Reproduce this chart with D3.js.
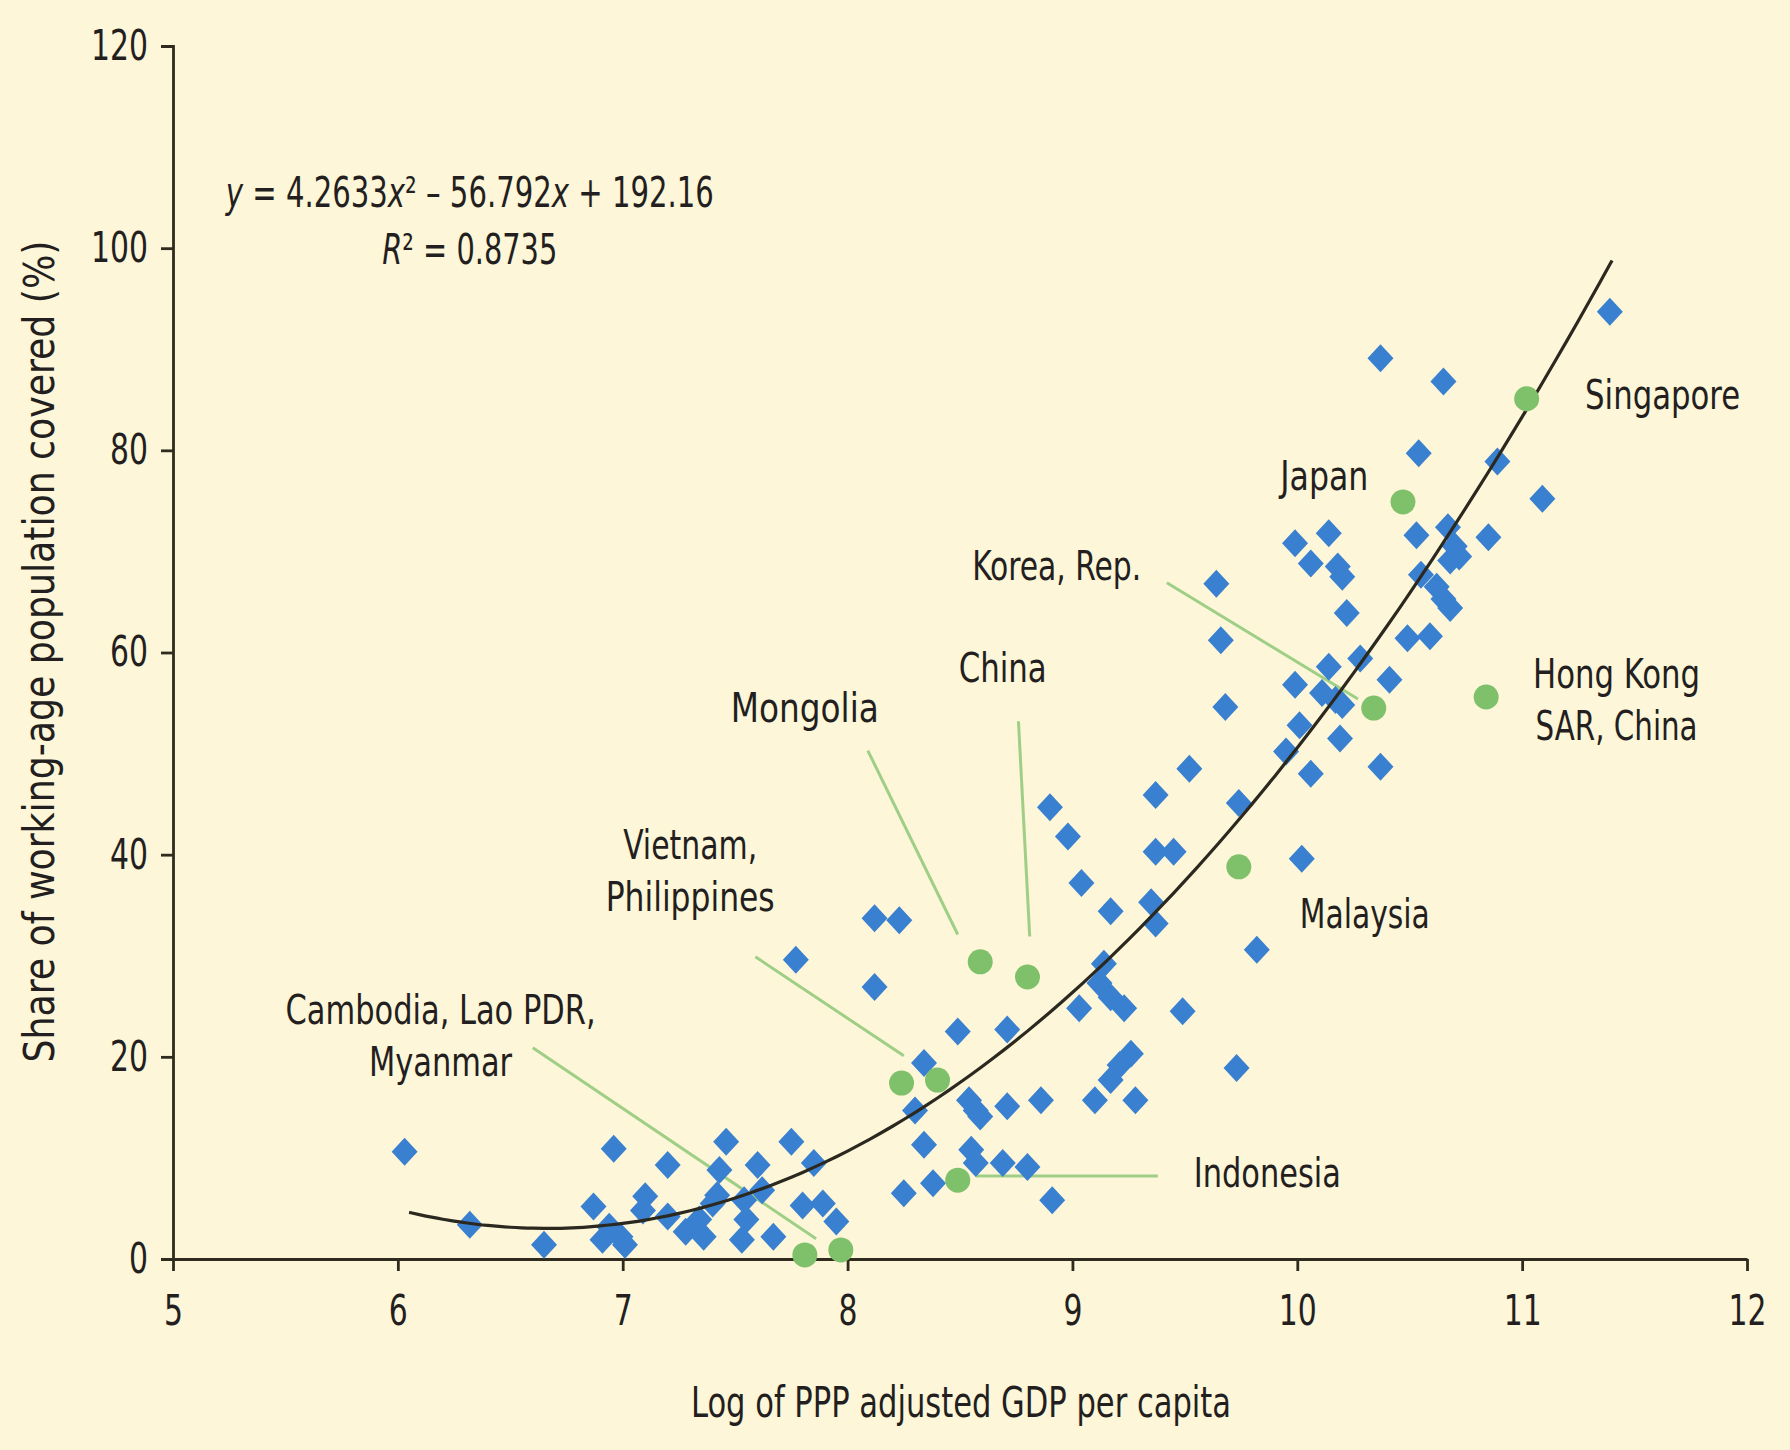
<!DOCTYPE html>
<html>
<head>
<meta charset="utf-8">
<script src="https://cdn.jsdelivr.net/npm/d3@7"></script>
<style>
  html, body { margin: 0; padding: 0; background: #fdf6d8; }
  svg { display: block; }
  svg text { font-family: "DejaVu Sans Condensed", "Liberation Sans Narrow", "Open Sans", sans-serif; fill: #231f20; }
</style>
</head>
<body>
<div id="chart"></div>
<script>
// --- data ---
// blue diamonds: log GDP per capita / share covered
const diamondX = [
  6.03, 6.32, 6.65, 6.87, 6.96, 6.94, 6.91, 6.99, 7.01, 7.10, 7.09, 7.20, 7.20, 7.28, 7.34, 7.36,
  7.40, 7.42, 7.43, 7.46, 7.54, 7.55, 7.53, 7.60, 7.62, 7.67, 7.75, 7.77, 7.80, 7.85, 7.89, 7.95,
  8.12, 8.23, 8.12, 8.49, 8.71, 8.34, 8.30, 8.54, 8.57, 8.59, 8.71, 8.34, 8.55, 8.57, 8.69, 8.80,
  8.38, 8.25, 8.86, 8.91,
  9.52, 9.95, 10.06, 10.37, 8.90, 9.37, 9.74, 8.98, 9.37, 9.45, 10.02, 9.04, 9.17, 9.35, 9.37, 9.82,
  9.14, 9.12, 9.17, 9.23, 9.03, 9.49, 9.26, 9.21, 9.17, 9.73, 9.10, 9.28,
  11.39, 10.37, 10.65, 10.54, 10.89, 11.09, 9.99, 10.14, 10.53, 10.67, 10.70, 10.68, 10.72, 10.85,
  10.06, 10.18, 10.20, 10.55, 10.62, 10.65, 10.68, 10.22, 10.49, 10.59, 10.28, 10.14, 9.99, 10.41,
  10.11, 10.17, 10.20, 10.01, 10.19, 9.64, 9.66, 9.68
];
const diamondY = [
  10.6, 3.4, 1.4, 5.2, 10.9, 3.2, 1.9, 2.2, 1.4, 6.2, 4.8, 9.3, 4.2, 2.7, 3.9, 2.2,
  5.5, 6.3, 8.8, 11.6, 5.8, 3.9, 1.9, 9.3, 6.8, 2.2, 11.6, 29.6, 5.3, 9.5, 5.5, 3.7,
  33.7, 33.5, 26.9, 22.5, 22.7, 19.4, 14.7, 15.7, 14.7, 14.1, 15.1, 11.3, 10.8, 9.5, 9.5, 9.1,
  7.5, 6.5, 15.7, 5.8,
  48.5, 50.2, 48.0, 48.7, 44.7, 45.9, 45.1, 41.8, 40.3, 40.3, 39.6, 37.2, 34.4, 35.3, 33.2, 30.6,
  29.2, 27.3, 25.9, 24.8, 24.8, 24.5, 20.3, 19.2, 17.7, 18.9, 15.7, 15.7,
  93.7, 89.1, 86.8, 79.7, 78.9, 75.2, 70.8, 71.8, 71.6, 72.4, 70.5, 69.1, 69.5, 71.4,
  68.8, 68.5, 67.5, 67.7, 66.5, 65.3, 64.4, 63.9, 61.4, 61.6, 59.4, 58.6, 56.8, 57.3,
  56.0, 55.3, 54.8, 52.8, 51.5, 66.8, 61.2, 54.6
];

// green circles: highlighted East Asian economies
const hiNames = ["Singapore", "Japan", "Korea, Rep.", "Hong Kong SAR, China", "Malaysia", "China",
  "Mongolia", "Vietnam", "Philippines", "Indonesia", "Cambodia", "Lao PDR / Myanmar"];
const hiX = [11.02, 10.47, 10.34, 10.84, 9.74, 8.80, 8.59, 8.24, 8.40, 8.49, 7.81, 7.97];
const hiY = [85.1, 74.9, 54.5, 55.6, 38.8, 27.9, 29.4, 17.4, 17.7, 7.8, 0.4, 0.9];

// quadratic trend line from the chart: y = a x^2 + b x + c
const trendCoef = [4.2633, -56.792, 192.16];
const trendRange = [6.05, 11.4];

const xTicks = [5, 6, 7, 8, 9, 10, 11, 12];
const yTicks = [0, 20, 40, 60, 80, 100, 120];

// --- layout ---
const width = 1790, height = 1450;
const margin = { top: 46, right: 43, bottom: 191, left: 173 };
const digitW = 19; // condensed digit width in the original

const svg = d3.select('#chart').append('svg')
  .attr('width', width)
  .attr('height', height);

svg.append('rect').attr('width', width).attr('height', height).attr('fill', '#fdf6d8');

const x = d3.scaleLinear().domain([5, 12]).range([margin.left, width - margin.right]);
const y = d3.scaleLinear().domain([0, 120]).range([height - margin.bottom, margin.top]);

const axisColor = '#2f2b1e';

// y axis
const gy = svg.append('g')
  .attr('transform', `translate(${margin.left},0)`)
  .call(d3.axisLeft(y).tickValues(yTicks).tickFormat(d3.format('d'))
    .tickSize(12).tickSizeOuter(12).tickPadding(13));
// x axis
const gx = svg.append('g')
  .attr('transform', `translate(0,${height - margin.bottom})`)
  .call(d3.axisBottom(x).tickValues(xTicks).tickFormat(d3.format('d'))
    .tickSize(12).tickSizeOuter(0).tickPadding(24));

[gx, gy].forEach(g => {
  g.selectAll('path, line').attr('stroke', axisColor).attr('stroke-width', 2.8);
  g.selectAll('text')
    .attr('font-size', 42)
    .attr('fill', '#231f20')
    .attr('textLength', d => String(d).length * digitW)
    .attr('lengthAdjust', 'spacingAndGlyphs')
    .style('font-family', '"DejaVu Sans Condensed", "Liberation Sans Narrow", "Open Sans", sans-serif');
});

// axis titles
svg.append('text')
  .attr('x', 961).attr('y', 1417)
  .attr('text-anchor', 'middle')
  .attr('font-size', 42)
  .attr('textLength', 540).attr('lengthAdjust', 'spacingAndGlyphs')
  .text('Log of PPP adjusted GDP per capita');

svg.append('text')
  .attr('transform', `translate(54,${y(60.1)}) rotate(-90)`)
  .attr('text-anchor', 'middle')
  .attr('font-size', 42)
  .attr('textLength', 822).attr('lengthAdjust', 'spacingAndGlyphs')
  .text('Share of working-age population covered (%)');

// equation and R², squeezed horizontally to the original's width
function squeezed(cx, baseline, targetW, parts) {
  const g = svg.append('g');
  const t = g.append('text')
    .attr('x', 0).attr('y', 0)
    .attr('text-anchor', 'middle')
    .attr('font-size', 42);
  parts.forEach(p => {
    const s = t.append('tspan').text(p[0]);
    if (p[1]) s.attr('font-style', 'italic');
  });
  const natural = t.node().getComputedTextLength();
  g.attr('transform', `translate(${cx},${baseline}) scale(${targetW / natural},1)`);
}
squeezed(x(6.32), 207, 488, [['y', 1], [' = 4.2633'], ['x', 1], ['² – 56.792'], ['x', 1], [' + 192.16']]);
squeezed(x(6.32), 264, 175, [['R', 1], ['² = 0.8735']]);

// leader lines (data units)
const leaders = [
  [9.42, 66.9, 10.27, 55.4],
  [8.76, 53.2, 8.81, 31.9],
  [8.09, 50.3, 8.49, 32.1],
  [7.59, 29.9, 8.25, 20.1],
  [6.60, 20.9, 7.86, 2.0],
  [8.57, 8.2, 9.38, 8.2]
];
svg.append('g').selectAll('line')
  .data(leaders)
  .join('line')
  .attr('x1', d => x(d[0])).attr('y1', d => y(d[1]))
  .attr('x2', d => x(d[2])).attr('y2', d => y(d[3]))
  .attr('stroke', '#9fcf86')
  .attr('stroke-width', 3);

// blue diamonds
const diamond = {
  draw(ctx, size) {
    const w = 13, h = 14;
    ctx.moveTo(0, -h); ctx.lineTo(w, 0); ctx.lineTo(0, h); ctx.lineTo(-w, 0); ctx.closePath();
  }
};
svg.append('g').selectAll('path')
  .data(diamondX.map((d, i) => [d, diamondY[i]]))
  .join('path')
  .attr('transform', d => `translate(${x(d[0])},${y(d[1])})`)
  .attr('d', d3.symbol().type(diamond))
  .attr('fill', '#3a80d0');

// trend line
const trendPts = d3.range(trendRange[0], trendRange[1] + 0.001, 0.05)
  .map(v => [v, trendCoef[0] * v * v + trendCoef[1] * v + trendCoef[2]]);
svg.append('path')
  .datum(trendPts)
  .attr('fill', 'none')
  .attr('stroke', '#2b281f')
  .attr('stroke-width', 3.2)
  .attr('d', d3.line().x(d => x(d[0])).y(d => y(d[1])).curve(d3.curveBasis));

// green circles
svg.append('g').selectAll('circle')
  .data(hiX.map((d, i) => [d, hiY[i]]))
  .join('circle')
  .attr('cx', d => x(d[0])).attr('cy', d => y(d[1]))
  .attr('r', 12.5)
  .attr('fill', '#7fc06a');

// annotation labels (data units, widths in px as measured)
const labels = [
  { t: ['Singapore'], w: [155], x: 11.28, y: 85.2, a: 'start' },
  { t: ['Japan'], w: [88], x: 10.12, y: 77.2, a: 'middle' },
  { t: ['Korea, Rep.'], w: [169], x: 8.93, y: 68.3, a: 'middle' },
  { t: ['China'], w: [88], x: 8.69, y: 58.2, a: 'middle' },
  { t: ['Mongolia'], w: [148], x: 7.81, y: 54.2, a: 'middle' },
  { t: ['Hong Kong', 'SAR, China'], w: [167, 162], x: 11.42, y: 57.6, a: 'middle' },
  { t: ['Vietnam,', 'Philippines'], w: [134, 169], x: 7.30, y: 40.7, a: 'middle' },
  { t: ['Malaysia'], w: [130], x: 10.30, y: 33.8, a: 'middle' },
  { t: ['Cambodia, Lao PDR,', 'Myanmar'], w: [310, 143], x: 6.19, y: 24.3, a: 'middle' },
  { t: ['Indonesia'], w: [147], x: 9.54, y: 8.2, a: 'start' }
];
labels.forEach(l => {
  l.t.forEach((line, i) => {
    svg.append('text')
      .attr('x', x(l.x)).attr('y', y(l.y) + i * 52)
      .attr('text-anchor', l.a)
      .attr('dominant-baseline', 'middle')
      .attr('font-size', 41)
      .attr('textLength', l.w[i]).attr('lengthAdjust', 'spacingAndGlyphs')
      .text(line);
  });
});
</script>
</body>
</html>
